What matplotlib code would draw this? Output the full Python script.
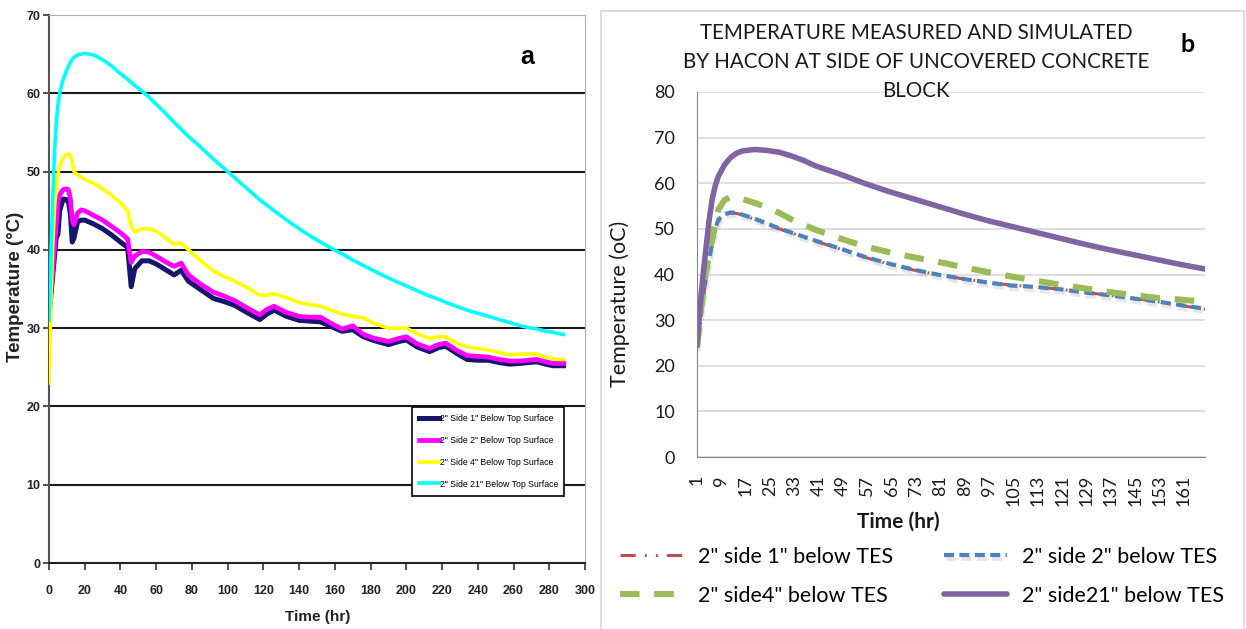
import numpy as np
import matplotlib
matplotlib.use("Agg")
from matplotlib import pyplot as plt
from matplotlib.patches import Rectangle
import matplotlib.patheffects as pe

# ---- panel a : measured temperatures ----
t_a = [0, 1, 2, 3, 4, 5, 6, 7, 8, 10, 11, 12, 13, 14, 16, 18, 20, 25, 30, 35, 40, 44, 46, 48,
       52, 56, 60, 65, 70, 74, 78, 85, 92, 98, 104, 110, 118, 122, 126, 133, 140, 146, 152,
       158, 164, 170, 176, 182, 190, 196, 200, 206, 213, 218, 222, 228, 234, 240, 246, 252,
       258, 264, 268, 273, 278, 282, 285, 288]
side1_a = [31.5, 34, 36.5, 39, 41.5, 42.0, 45.0, 45.8, 46.5, 46.4, 46.0, 44.5, 41.0, 41.5, 43.6,
           43.8, 43.8, 43.3, 42.7, 41.9, 41.0, 40.3, 35.3, 37.6, 38.6, 38.6, 38.2, 37.5, 36.8,
           37.4, 36.0, 34.9, 33.8, 33.4, 32.9, 32.1, 31.1, 31.8, 32.3, 31.5, 31.0, 30.9, 30.8,
           30.2, 29.6, 29.8, 28.9, 28.4, 27.9, 28.3, 28.5, 27.6, 27.0, 27.5, 27.7, 26.8, 26.0,
           25.9, 25.9, 25.6, 25.4, 25.5, 25.6, 25.7, 25.4, 25.2, 25.2, 25.2]
side2_a = [31.5, 34.5, 37, 40, 43, 46.2, 47.0, 47.4, 47.7, 47.8, 47.6, 46.5, 43.8, 43.2, 44.7,
           45.1, 45.0, 44.4, 43.8, 43.0, 42.2, 41.4, 38.4, 39.2, 39.8, 39.7, 39.2, 38.5, 37.9,
           38.3, 36.8, 35.6, 34.6, 34.1, 33.5, 32.7, 31.7, 32.4, 32.8, 32.0, 31.5, 31.4, 31.4,
           30.6, 29.9, 30.3, 29.2, 28.7, 28.3, 28.7, 28.9, 28.0, 27.4, 27.9, 28.1, 27.2, 26.5,
           26.4, 26.3, 26.0, 25.8, 25.8, 25.9, 26.0, 25.7, 25.5, 25.5, 25.5]
side4_a = [23, 33, 40, 45, 48, 49.7, 50.6, 51.3, 51.8, 52.2, 52.2, 52.0, 51.4, 50.0, 49.6,
           49.3, 49.0, 48.5, 47.8, 47.0, 46.0, 45.0, 43.0, 42.3, 42.7, 42.7, 42.4, 41.6, 40.7,
           40.9, 40.0, 38.6, 37.3, 36.6, 36.0, 35.3, 34.2, 34.2, 34.4, 33.9, 33.3, 33.0, 32.8,
           32.3, 31.8, 31.5, 31.3, 30.6, 30.0, 30.0, 30.0, 29.3, 28.7, 28.9, 28.9, 28.1, 27.6,
           27.4, 27.2, 26.9, 26.6, 26.7, 26.7, 26.7, 26.3, 26.1, 26.0, 26.0]
side21_a = [31, 38, 46, 52, 56, 58.5, 60, 61, 61.8, 63, 63.5, 64, 64.3, 64.6, 64.9, 65.0, 65.1,
            64.9, 64.3, 63.5, 62.5, 61.8, 61.4, 61.0, 60.3, 59.5, 58.6, 57.5, 56.3, 55.4, 54.5,
            53.1, 51.6, 50.4, 49.2, 48.0, 46.4, 45.7, 45.0, 43.8, 42.7, 41.8, 41.0, 40.2, 39.5,
            38.7, 38.0, 37.3, 36.4, 35.8, 35.4, 34.8, 34.1, 33.7, 33.3, 32.8, 32.3, 31.9, 31.5,
            31.1, 30.7, 30.3, 30.1, 29.9, 29.6, 29.5, 29.3, 29.2]
labels_a = ['2" Side 1" Below Top Surface', '2" Side 2" Below Top Surface',
            '2" Side 4" Below Top Surface', '2" Side 21" Below Top Surface']
colors_a = ['#16166e', '#ff00ff', '#ffff00', '#00ffff']
widths_a = [3.6, 3.4, 2.6, 2.6]

# ---- panel b : simulated by HACON ----
hours_b = [1, 2, 3, 4, 5, 6, 7, 8, 10, 12, 14, 16, 20, 24, 28, 32, 36, 40, 48, 56, 64, 72, 80,
           88, 96, 104, 112, 120, 128, 136, 144, 152, 160, 168]
side1_b = [24, 29.5, 34.5, 39, 43, 46.5, 49.5, 51.6, 53.0, 53.5, 53.4, 53.0, 52.1, 51.1, 50.0,
           49.1, 48.2, 47.3, 45.6, 43.8, 42.3, 41.0, 40.0, 39.1, 38.3, 37.7, 37.3, 36.8, 36.1,
           35.5, 34.8, 34.1, 33.2, 32.4]
side2_b = [24, 30, 35, 39.5, 43.5, 47, 50, 52, 53.2, 53.6, 53.5, 53.1, 52.2, 51.2, 50.1, 49.2,
           48.3, 47.4, 45.7, 43.9, 42.4, 41.1, 40.0, 39.1, 38.3, 37.6, 37.3, 36.8, 36.1, 35.5,
           34.8, 34.1, 33.3, 32.5]
side4_b = [24, 30, 36, 41, 45, 48, 51.5, 54.2, 56.3, 57.0, 56.9, 56.5, 55.7, 54.7, 53.5, 52.1,
           50.9, 49.8, 47.9, 46.2, 44.9, 43.8, 42.8, 41.7, 40.6, 39.6, 38.7, 37.8, 37.0, 36.2,
           35.5, 34.9, 34.5, 34.0]
side21_b = [24.5, 33, 40, 46, 52, 56.5, 59.5, 61.5, 64, 65.6, 66.6, 67.1, 67.4, 67.2, 66.8,
            66.0, 65.0, 63.8, 62.0, 60.0, 58.2, 56.6, 55.0, 53.4, 51.9, 50.6, 49.3, 48.0, 46.7,
            45.5, 44.4, 43.3, 42.2, 41.2]
labels_b = ['2" side 1" below TES', '2" side 2" below TES',
            '2" side4" below TES', '2" side21" below TES']
title_b = ['TEMPERATURE MEASURED AND SIMULATED',
           'BY HACON AT SIDE OF UNCOVERED CONCRETE',
           'BLOCK']

arial = ['Liberation Sans', 'DejaVu Sans']
calib = ['Lato', 'DejaVu Sans']

fig = plt.figure(figsize=(12.46, 6.29), dpi=100)
W, H = 1246, 629

# ================= panel a =================
ax1 = fig.add_axes([49 / W, 66 / H, 536 / W, 548 / H])
for ys, c, lw, lab in zip([side1_a, side2_a, side4_a, side21_a], colors_a, widths_a, labels_a):
    ax1.plot(t_a, ys, color=c, lw=lw, label=lab, solid_joinstyle='round', zorder=3)

ax1.set_xlim(0, 300)
ax1.set_ylim(0, 70)
ax1.set_xticks(range(0, 301, 20))
ax1.set_yticks(range(0, 71, 10))
for v in range(10, 61, 10):
    ax1.axhline(v, color='#1a1a1a', lw=1.5, zorder=1)
ax1.spines['top'].set_color('#b0b0b0')
ax1.spines['right'].set_color('#b0b0b0')
ax1.spines['left'].set_color('#555555')
ax1.spines['left'].set_linewidth(1.5)
ax1.spines['bottom'].set_color('#222222')
ax1.spines['bottom'].set_linewidth(1.5)
ax1.tick_params(axis='x', length=5, width=1.2, pad=11, color='#333333')
ax1.tick_params(axis='y', length=4, width=1.2, pad=2, color='#333333')
for lab in ax1.get_xticklabels() + ax1.get_yticklabels():
    lab.set_family(arial)
    lab.set_fontweight('bold')
    lab.set_fontsize(9)
    lab.set_color('#222222')

ax1.set_ylabel('Temperature (°C)', family=arial, fontweight='bold', fontsize=13.5, color='#222222')
ax1.yaxis.set_label_coords(-0.046, 0.503)
ax1.set_xlabel('Time (hr)', family=arial, fontweight='bold', fontsize=11, color='#222222')
ax1.xaxis.set_label_coords(0.502, -0.085)

leg1 = ax1.legend(loc='upper left', bbox_to_anchor=(0.677, 0.1186, 0.284, 0.166), mode='expand',
                  prop={'family': arial, 'size': 6.3},
                  handlelength=2.3, handletextpad=0.1, labelspacing=1.45, borderpad=0.85,
                  fancybox=False, framealpha=1, borderaxespad=0)
leg1.get_frame().set_edgecolor('black')
leg1.get_frame().set_linewidth(1.2)

fig.text(527 / W, 1 - 57 / H, 'a', family=arial, fontweight='bold',
         fontsize=18, ha='center', va='center')

# ================= panel b =================
fig.add_artist(Rectangle((601 / W, -0.05), 643 / W, 1.05 - 11 / H, transform=fig.transFigure,
                         fill=False, edgecolor='#d9d9d9', lw=1.2))

ax2 = fig.add_axes([697 / W, 172 / H, 508 / W, 365 / H])
ax2.plot(hours_b, side1_b, color='#c0504d', lw=2.2, dashes=(5, 3, 0.6, 3, 0.6, 3), label=labels_b[0])
ax2.plot(hours_b, side2_b, color='#4f81bd', lw=3.0, dashes=(2.4, 1.3), label=labels_b[1],
         path_effects=[pe.SimpleLineShadow(offset=(1, -2.5), shadow_color='#888888', alpha=0.2),
                       pe.Normal()])
ax2.plot(hours_b, side4_b, color='#9bbb59', lw=4.4, dashes=(3.2, 2.4), label=labels_b[2])
ax2.plot(hours_b, side21_b, color='#8064a2', lw=4.0, label=labels_b[3], solid_capstyle='round')

ax2.set_xlim(1, 168)
ax2.set_ylim(0, 80)
ax2.set_yticks(range(0, 81, 10))
ax2.set_xticks(range(1, 162, 8))
ax2.yaxis.grid(True, color='#d9d9d9', lw=1.2)
ax2.set_axisbelow(True)
ax2.spines['top'].set_visible(False)
ax2.spines['right'].set_visible(False)
ax2.spines['left'].set_color('#868686')
ax2.spines['bottom'].set_color('#868686')
ax2.tick_params(axis='y', length=0, pad=16)
ax2.tick_params(axis='x', length=0, pad=13, rotation=90)
for lab in ax2.get_xticklabels() + ax2.get_yticklabels():
    lab.set_family(calib)
    lab.set_fontsize(13)
    lab.set_color('#1a1a1a')

ax2.set_ylabel('Temperature (oC)', family=calib, fontsize=15.5, color='#1a1a1a')
ax2.yaxis.set_label_coords(-0.132, 0.42)
ax2.set_xlabel('Time (hr)', family=calib, fontsize=15, fontweight='bold', color='#1a1a1a')
ax2.xaxis.set_label_coords(0.396, -0.15)

for i, line in enumerate(title_b):
    fig.text(916 / W, 1 - (33 + 29 * i) / H, line, family=calib, fontsize=14.8,
             ha='center', va='center', color='#1a1a1a')
fig.text(1188 / W, 1 - 44 / H, 'b', family=calib, fontweight='bold', fontsize=18,
         ha='center', va='center')

h, l = ax2.get_legend_handles_labels()
order = [0, 2, 1, 3]
fig.legend([h[i] for i in order], [l[i] for i in order], loc='upper left',
           bbox_to_anchor=(620 / W, 1 - 547 / H), ncol=2,
           prop={'family': calib, 'size': 15.5}, frameon=False, handlelength=2.9,
           handletextpad=0.7, columnspacing=2.4, labelspacing=0.88, borderpad=0,
           borderaxespad=0)

fig.savefig('out.png', dpi=100)
